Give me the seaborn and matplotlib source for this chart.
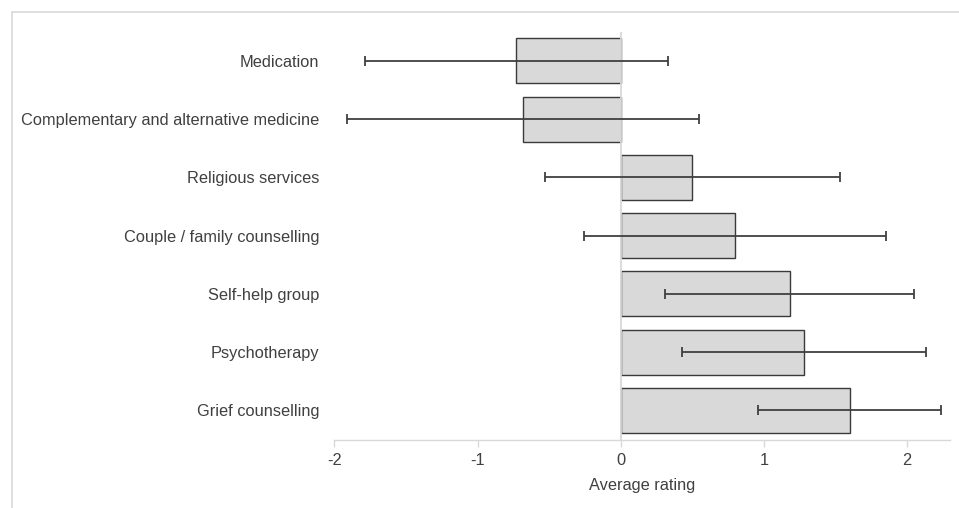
import matplotlib
matplotlib.use("Agg")
import matplotlib.pyplot as plt
from matplotlib.lines import Line2D
import seaborn as sns
import pandas as pd
import numpy as np

categories = [
    "Medication",
    "Complementary and alternative medicine",
    "Religious services",
    "Couple / family counselling",
    "Self-help group",
    "Psychotherapy",
    "Grief counselling",
]
mean_rating = [-0.73, -0.68, 0.50, 0.80, 1.18, 1.28, 1.60]
error = [1.06, 1.23, 1.03, 1.055, 0.87, 0.855, 0.64]
x_ticks = [-2, -1, 0, 1, 2]

sns.set_theme(style="white")
plt.rcParams["font.family"] = ["Liberation Sans", "DejaVu Sans"]

text_color = "#404040"
axis_color = "#d9d9d9"
edge_color = "#3a3a3a"
fs = 11.8

df = pd.DataFrame({"service": categories, "rating": mean_rating})

fig = plt.figure(figsize=(9.59, 5.08), dpi=100)
ax = fig.add_axes([0.3488, 0.1348, 0.6418, 0.8028])

sns.barplot(
    data=df, x="rating", y="service", orient="h", order=categories,
    color="#d9d9d9", edgecolor=edge_color, linewidth=1.0, width=0.77,
    errorbar=None, saturation=1, ax=ax,
)

ax.axvline(0, color=axis_color, lw=1.3, zorder=3)

pos = np.arange(len(categories))
ax.errorbar(mean_rating, pos, xerr=error, fmt="none", ecolor="#404040",
            elinewidth=1.3, capsize=3.6, capthick=1.3, zorder=4)

ax.set_xlim(-2, 2.3)
ax.set_ylim(6.5, -0.5)
ax.set_xticks(x_ticks)
ax.set_xticklabels([str(t) for t in x_ticks])
ax.set_xlabel("Average rating", fontsize=fs, color=text_color, labelpad=7)
ax.set_ylabel("")

for side in ["top", "right", "left"]:
    ax.spines[side].set_visible(False)
ax.spines["bottom"].set_color(axis_color)
ax.spines["bottom"].set_linewidth(1.0)

ax.tick_params(axis="x", length=5, width=1.0, color=axis_color,
               labelsize=fs, labelcolor=text_color, pad=5, bottom=True)
ax.tick_params(axis="y", length=0, labelsize=fs, labelcolor=text_color, pad=11)

# thin outer frame along the top and left edges
fig.add_artist(Line2D([12 / 959, 1.0], [1 - 12 / 508, 1 - 12 / 508],
                      transform=fig.transFigure, color=axis_color, lw=1.2))
fig.add_artist(Line2D([12 / 959, 12 / 959], [0.0, 1 - 12 / 508],
                      transform=fig.transFigure, color=axis_color, lw=1.2))

fig.savefig("out.png", dpi=100, facecolor="white")
